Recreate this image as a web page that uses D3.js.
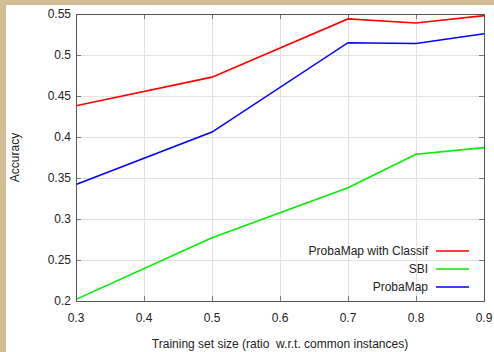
<!DOCTYPE html>
<html>
<head>
<meta charset="utf-8">
<script src="https://cdn.jsdelivr.net/npm/d3@7"></script>
<style>
  html, body { margin: 0; padding: 0; background: #fff; }
  svg { display: block; }
  text { white-space: pre; }
</style>
</head>
<body>
<svg id="chart" width="494" height="352"></svg>
<script>
// training set sizes
const sizes = [0.3, 0.5, 0.7, 0.8, 0.9];
const classifAcc = [0.438, 0.473, 0.544, 0.539, 0.548];
const sbiAcc = [0.202, 0.277, 0.338, 0.379, 0.387];
const probaAcc = [0.342, 0.406, 0.515, 0.514, 0.526];

const xTicks = [0.3, 0.4, 0.5, 0.6, 0.7, 0.8, 0.9];
const yTicks = [0.2, 0.25, 0.3, 0.35, 0.4, 0.45, 0.5, 0.55];

const series = [
  { name: "ProbaMap with Classif", values: classifAcc, color: "#ff0000" },
  { name: "SBI", values: sbiAcc, color: "#00ee00" },
  { name: "ProbaMap", values: probaAcc, color: "#0000ff" }
];

const W = 494, H = 352;
const margin = { left: 76, right: 10, top: 14, bottom: 51 };
const FS = 12;

const svg = d3.select("#chart")
  .attr("font-family", "'Liberation Sans', Arial, sans-serif");

// tan frame on the left/top
svg.append("rect").attr("width", W).attr("height", H).attr("fill", "#d4bc94");
svg.append("rect").attr("x", 6).attr("y", 5).attr("width", W - 6).attr("height", H - 5).attr("fill", "#fff");

const x = d3.scaleLinear().domain([0.3, 0.9]).range([margin.left, W - margin.right]);
const y = d3.scaleLinear().domain([0.2, 0.55]).range([H - margin.bottom, margin.top]);

// grid
const grid = svg.append("g").attr("stroke", "#e2e2e2").attr("stroke-width", 1);
grid.selectAll("line.v").data(xTicks.slice(1, -1)).join("line")
  .attr("x1", d => Math.round(x(d)) + 0.5).attr("x2", d => Math.round(x(d)) + 0.5)
  .attr("y1", y(0.55)).attr("y2", y(0.2));
grid.selectAll("line.h").data(yTicks.slice(1, -1)).join("line")
  .attr("y1", d => Math.round(y(d)) + 0.5).attr("y2", d => Math.round(y(d)) + 0.5)
  .attr("x1", x(0.3)).attr("x2", x(0.9));

// inward ticks on all four sides
const tickLen = 5;
const ticks = svg.append("g").attr("stroke", "#777").attr("stroke-width", 1);
xTicks.forEach(t => {
  const px = Math.round(x(t)) + 0.5;
  ticks.append("line").attr("x1", px).attr("x2", px).attr("y1", y(0.2)).attr("y2", y(0.2) - tickLen);
  ticks.append("line").attr("x1", px).attr("x2", px).attr("y1", y(0.55)).attr("y2", y(0.55) + tickLen);
});
yTicks.forEach(t => {
  const py = Math.round(y(t)) + 0.5;
  ticks.append("line").attr("y1", py).attr("y2", py).attr("x1", x(0.3)).attr("x2", x(0.3) + tickLen);
  ticks.append("line").attr("y1", py).attr("y2", py).attr("x1", x(0.9)).attr("x2", x(0.9) - tickLen);
});

// tick labels
svg.append("g").selectAll("text").data(xTicks).join("text")
  .attr("x", d => x(d)).attr("y", y(0.2) + 21)
  .attr("text-anchor", "middle").attr("font-size", FS).attr("fill", "#222")
  .text(d => d3.format("")(d));
svg.append("g").selectAll("text").data(yTicks).join("text")
  .attr("x", x(0.3) - 5).attr("y", d => y(d) + 4)
  .attr("text-anchor", "end").attr("font-size", FS).attr("fill", "#222")
  .text(d => d3.format("")(d));

// axis titles
svg.append("text")
  .attr("x", (x(0.3) + x(0.9)) / 2).attr("y", 348)
  .attr("text-anchor", "middle").attr("font-size", FS).attr("fill", "#222")
  .text("Training set size (ratio  w.r.t. common instances)");
svg.append("text")
  .attr("transform", `translate(19,${(y(0.2) + y(0.55)) / 2}) rotate(-90)`)
  .attr("text-anchor", "middle").attr("font-size", FS).attr("fill", "#222")
  .text("Accuracy");

// lines
const line = d3.line().x((d, i) => x(sizes[i])).y(d => y(d));
svg.append("g").selectAll("path").data(series).join("path")
  .attr("fill", "none").attr("stroke", d => d.color).attr("stroke-width", 1.6)
  .attr("d", d => line(d.values));

// frame
svg.append("rect")
  .attr("x", x(0.3) + 0.5).attr("y", y(0.55) + 0.5)
  .attr("width", x(0.9) - x(0.3)).attr("height", y(0.2) - y(0.55))
  .attr("fill", "none").attr("stroke", "#555").attr("stroke-width", 1);

// legend
const legend = svg.append("g");
series.forEach((s, i) => {
  const ly = 251 + i * 18;
  legend.append("text").attr("x", 428).attr("y", ly + 4)
    .attr("text-anchor", "end").attr("font-size", FS).attr("fill", "#222")
    .text(s.name);
  legend.append("line").attr("x1", 436).attr("x2", 469).attr("y1", ly).attr("y2", ly)
    .attr("stroke", s.color).attr("stroke-width", 1.6);
});
</script>
</body>
</html>
